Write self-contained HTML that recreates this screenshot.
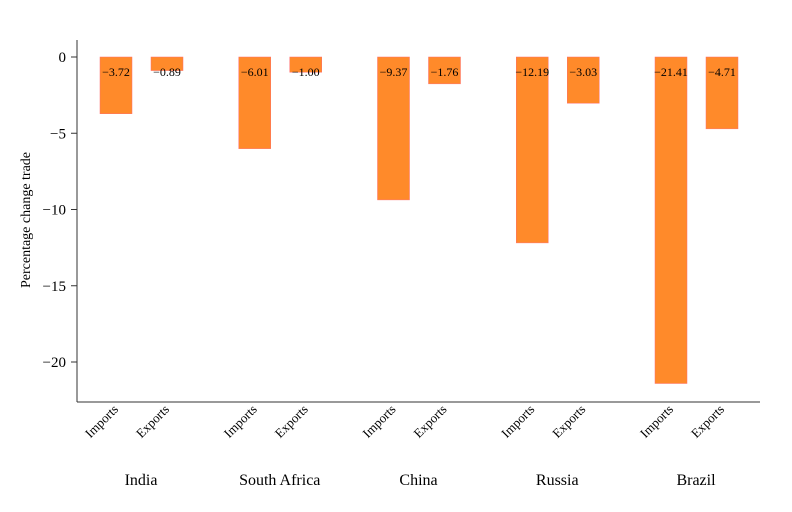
<!DOCTYPE html>
<html><head><meta charset="utf-8"><style>
body{margin:0;background:#fff}
svg text{font-family:"Liberation Serif",serif;fill:#000}
</style></head><body>
<svg width="792" height="507">
<g id="plot"></g>
</svg>
<script>
const countries=["India","South Africa","China","Russia","Brazil"];
const imports=[-3.72,-6.01,-9.37,-12.19,-21.41];
const exports_=[-0.89,-1.00,-1.76,-3.03,-4.71];
const yTicks=[0,-5,-10,-15,-20];
const NS="http://www.w3.org/2000/svg";
const g=document.getElementById("plot");
const y0=57,pxPerUnit=15.25;
function y(v){return y0-v*pxPerUnit;}
function groupX(i){return 100+i*138.75;}
function mk(tag,attrs){const e=document.createElementNS(NS,tag);for(const k in attrs)e.setAttribute(k,attrs[k]);g.appendChild(e);return e;}
// axes
let ax=mk("line",{x1:77,y1:40,x2:77,y2:402,stroke:"#333","stroke-width":1});


let bx=mk("line",{x1:77,y1:402,x2:760,y2:402,stroke:"#333","stroke-width":1});


yTicks.forEach(t=>{
  const l=mk("line",{x1:71,x2:77,y1:y(t),y2:y(t),stroke:"#333"});
  
  
  const tx=mk("text",{x:66,y:y(t)+5,"text-anchor":"end","font-size":15});
  tx.textContent=t===0?"0":"\u2212"+Math.abs(t);
  
  
});
const yt=mk("text",{x:0,y:0,"font-size":14,"text-anchor":"middle",transform:"translate(30,220) rotate(-90)"});
yt.textContent="Percentage change trade";


function bar(x,v,name){
  const r=mk("rect",{x:x,y:y0,width:32,height:y(v)-y0,fill:"#FF8A2A",stroke:"#FF6F6F","stroke-width":0.5});
  
  
  const t=mk("text",{x:x+16,y:76,"text-anchor":"middle","font-size":12});
  t.textContent="\u2212"+Math.abs(v).toFixed(2);
  
  
}
function rotLabel(cx,txt){
  const t=mk("text",{x:0,y:0,"font-size":13,"text-anchor":"end",transform:`translate(${cx+3},${410}) rotate(-45)`});
  t.textContent=txt;
  
  
}
countries.forEach((c,i)=>{
  const gx=groupX(i);
  bar(gx,imports[i],"bar-imports");
  bar(gx+51,exports_[i],"bar-exports");
  rotLabel(gx+16,"Imports");
  rotLabel(gx+67,"Exports");
  const t=mk("text",{x:gx+41,y:485,"text-anchor":"middle","font-size":16});
  t.textContent=c;
  
  
});
</script>
</body></html>
